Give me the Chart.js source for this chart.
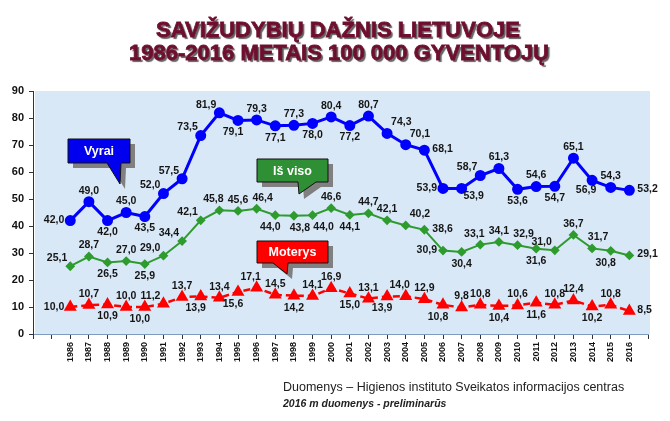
<!DOCTYPE html>
<html>
<head>
<meta charset="utf-8">
<script src="https://cdn.jsdelivr.net/npm/chart.js@4.4.1/dist/chart.umd.min.js"></script>
<style>
  html, body { margin: 0; padding: 0; background: #fff; }
  #wrap { width: 670px; height: 421px; position: relative; }
</style>
</head>
<body>
<div id="wrap"><canvas id="c" width="670" height="421"></canvas></div>
<script>
var years = [1986, 1987, 1988, 1989, 1990, 1991, 1992, 1993, 1994, 1995, 1996,
  1997, 1998, 1999, 2000, 2001, 2002, 2003, 2004, 2005, 2006, 2007, 2008, 2009,
  2010, 2011, 2012, 2013, 2014, 2015, 2016];
var vyrai = [42.0, 49.0, 42.0, 45.0, 43.5, 52.0, 57.5, 73.5, 81.9, 79.1, 79.3,
  77.1, 77.3, 78.0, 80.4, 77.2, 80.7, 74.3, 70.1, 68.1, 53.9, 53.9, 58.7, 61.3,
  53.6, 54.6, 54.7, 65.1, 56.9, 54.3, 53.2];
var isViso = [25.1, 28.7, 26.5, 27.0, 25.9, 29.0, 34.4, 42.1, 45.8, 45.6, 46.4,
  44.0, 43.8, 44.0, 46.6, 44.1, 44.7, 42.1, 40.2, 38.6, 30.9, 30.4, 33.1, 34.1,
  32.9, 31.6, 31.0, 36.7, 31.7, 30.8, 29.1];
var moterys = [10.0, 10.7, 10.9, 10.0, 10.0, 11.2, 13.7, 13.9, 13.4, 15.6, 17.1,
  14.5, 14.2, 14.1, 16.9, 15.0, 13.1, 13.9, 14.0, 12.9, 10.8, 9.8, 10.8, 10.4,
  10.6, 11.6, 10.8, 12.4, 10.2, 10.8, 8.5];
var yTicks = [0, 10, 20, 30, 40, 50, 60, 70, 80, 90];

var titleLines = ['SAVIŽUDYBIŲ DAŽNIS LIETUVOJE', '1986-2016 METAIS 100 000 GYVENTOJŲ'];
var sourceLine = 'Duomenys – Higienos instituto Sveikatos informacijos centras';
var noteLine = '2016 m duomenys - preliminarūs';

// where each value label sits relative to its point
var vyraiPos = ['l','a','b','a','b','al','al','al','al','bL','a','b','a','b','a','b',
  'a','ar','ar','r','l','br','al','a','b','a','b','a','bl','a','r'];
var visoPos = ['al','a','b','a','b','al','al','al','aL','a','aR','bL','bR','bRR','a','b',
  'a','a','ar','r','l','b','aL','a','aR','b','al','a','aR','bL','r'];
var moterysPos = ['l','a','b','a','bL','al','a','bL','a','bL','aL','a','b','a','a','b',
  'a','bL','aL','a','bL','a','a','b','a','b','a','a','b','a','r'];

var FONT = '"Liberation Sans", Arial, sans-serif';

var posMap = {
  a: [0, -11, 'center'], b: [0, 12, 'center'],
  aL: [-6, -11, 'center'], aR: [6, -11, 'center'],
  bL: [-5, 12, 'center'], bR: [6, 12, 'center'], bRR: [11, 12, 'center'],
  l: [-6, 0, 'right'], r: [8, -1, 'left'],
  al: [-3, -8, 'right'], ar: [4, -11, 'left'],
  bl: [-6, 10, 'center'], br: [12, 8, 'center']
};

function pts(vals) {
  return vals.map(function (v, i) { return { x: years[i], y: v }; });
}

function fmt(v) { return v.toFixed(1).replace('.', ','); }

function callout(ctx, box, tail, fill, text) {
  function shape(dx, dy) {
    ctx.beginPath();
    ctx.moveTo(box[0] + dx, box[1] + dy);
    ctx.lineTo(box[0] + box[2] + dx, box[1] + dy);
    ctx.lineTo(box[0] + box[2] + dx, box[1] + box[3] + dy);
    ctx.lineTo(tail[1][0] + dx, tail[1][1] + dy);
    ctx.lineTo(tail[2][0] + dx, tail[2][1] + dy);
    ctx.lineTo(tail[0][0] + dx, tail[0][1] + dy);
    ctx.lineTo(box[0] + dx, box[1] + box[3] + dy);
    ctx.closePath();
  }
  ctx.save();
  shape(5, 5);
  ctx.fillStyle = '#808080';
  ctx.fill();
  shape(0, 0);
  ctx.fillStyle = fill;
  ctx.fill();
  ctx.lineWidth = 1;
  ctx.strokeStyle = '#111';
  ctx.stroke();
  ctx.fillStyle = '#fff';
  ctx.font = 'bold 12.5px ' + FONT;
  ctx.textAlign = 'center';
  ctx.textBaseline = 'middle';
  ctx.fillText(text, box[0] + box[2] / 2, box[1] + box[3] / 2 + 1);
  ctx.restore();
}

var decor = {
  id: 'decor',
  beforeDraw: function (chart) {
    var ctx = chart.ctx, a = chart.chartArea;
    ctx.save();
    ctx.fillStyle = '#fff';
    ctx.fillRect(0, 0, chart.width, chart.height);
    ctx.fillStyle = '#d9e8f7';
    ctx.fillRect(a.left + 2, a.top, a.right - a.left, a.bottom - a.top);
    ctx.restore();
  },
  afterDatasetsDraw: function (chart) {
    var ctx = chart.ctx;
    callout(ctx, [68, 139, 62, 24], [[107, 163], [121, 163], [120, 184]], '#0000ee', 'Vyrai');
    callout(ctx, [257, 159, 71, 23], [[298, 182], [316, 182], [299, 194]], '#2f8f35', 'Iš viso');
    callout(ctx, [257, 241, 71, 22], [[273, 263], [288, 263], [287, 274]], '#ff0000', 'Moterys');

    var sets = [[vyrai, vyraiPos], [isViso, visoPos], [moterys, moterysPos]];
    ctx.save();
    ctx.font = 'bold 10.5px ' + FONT;
    ctx.fillStyle = '#151515';
    ctx.textBaseline = 'middle';
    sets.forEach(function (s, di) {
      var meta = chart.getDatasetMeta(di);
      s[0].forEach(function (v, i) {
        var p = meta.data[i];
        var o = posMap[s[1][i]];
        ctx.textAlign = o[2];
        ctx.fillText(fmt(v), p.x + o[0], p.y + o[1]);
      });
    });
    ctx.restore();
  },
  afterDraw: function (chart) {
    var ctx = chart.ctx;
    ctx.save();
    ctx.font = 'bold 22px ' + FONT;
    ctx.textAlign = 'center';
    ctx.textBaseline = 'alphabetic';
    ctx.shadowColor = 'rgba(80,80,80,0.9)';
    ctx.shadowOffsetX = 2;
    ctx.shadowOffsetY = 2;
    ctx.shadowBlur = 1;
    ctx.fillStyle = '#6e0f30';
    ctx.strokeStyle = '#6e0f30';
    ctx.lineWidth = 0.8;
    ctx.fillText(titleLines[0], 338, 37);
    ctx.fillText(titleLines[1], 339, 60);
    ctx.shadowColor = 'transparent';
    ctx.strokeText(titleLines[0], 338, 37);
    ctx.strokeText(titleLines[1], 339, 60);
    ctx.restore();

    ctx.save();
    ctx.textAlign = 'left';
    ctx.fillStyle = '#222';
    ctx.font = '12.5px ' + FONT;
    ctx.fillText(sourceLine, 283, 391);
    ctx.font = 'italic bold 10.5px ' + FONT;
    ctx.fillText(noteLine, 283, 407);
    ctx.restore();
  }
};

new Chart(document.getElementById('c').getContext('2d'), {
  type: 'line',
  data: {
    datasets: [
      {
        label: 'Vyrai', data: pts(vyrai),
        borderColor: '#0000ff', backgroundColor: '#0000ff',
        borderWidth: 3, pointRadius: 4, pointStyle: 'circle', tension: 0
      },
      {
        label: 'Iš viso', data: pts(isViso),
        borderColor: '#2e9b2e', backgroundColor: '#2e9b2e',
        borderWidth: 2, pointRadius: 3.5, pointStyle: 'rectRot', tension: 0
      },
      {
        label: 'Moterys', data: pts(moterys),
        borderColor: '#ff0000', backgroundColor: '#ff0000',
        borderWidth: 2.5, borderDash: [7, 4], pointRadius: 5, pointStyle: 'triangle', tension: 0
      }
    ]
  },
  options: {
    responsive: false,
    animation: false,
    devicePixelRatio: 1,
    layout: { padding: { top: 91, right: 22, bottom: 47, left: 0 } },
    plugins: { legend: { display: false }, tooltip: { enabled: false } },
    scales: {
      x: {
        type: 'linear', min: 1984, max: 2017,
        afterFit: function (s) { s.height = 40; },
        border: { color: '#7f9cc0', width: 1 },
        grid: { drawOnChartArea: false, drawTicks: true, tickLength: 5, color: '#333' },
        ticks: {
          stepSize: 1, autoSkip: false, minRotation: 90, maxRotation: 90, padding: 3,
          color: '#111', font: { family: FONT, size: 9, weight: 'bold' },
          callback: function (v) { return years.indexOf(v) >= 0 ? String(v) : ''; }
        }
      },
      y: {
        min: 0, max: 90,
        afterFit: function (s) { s.width = 33; },
        afterBuildTicks: function (s) { s.ticks = yTicks.map(function (v) { return { value: v }; }); },
        border: { color: '#333', width: 1 },
        grid: { drawOnChartArea: false, drawTicks: true, tickLength: 4, color: '#333' },
        ticks: { padding: 5, color: '#111', font: { family: FONT, size: 11, weight: 'bold' } }
      }
    }
  },
  plugins: [decor]
});
</script>
</body>
</html>
